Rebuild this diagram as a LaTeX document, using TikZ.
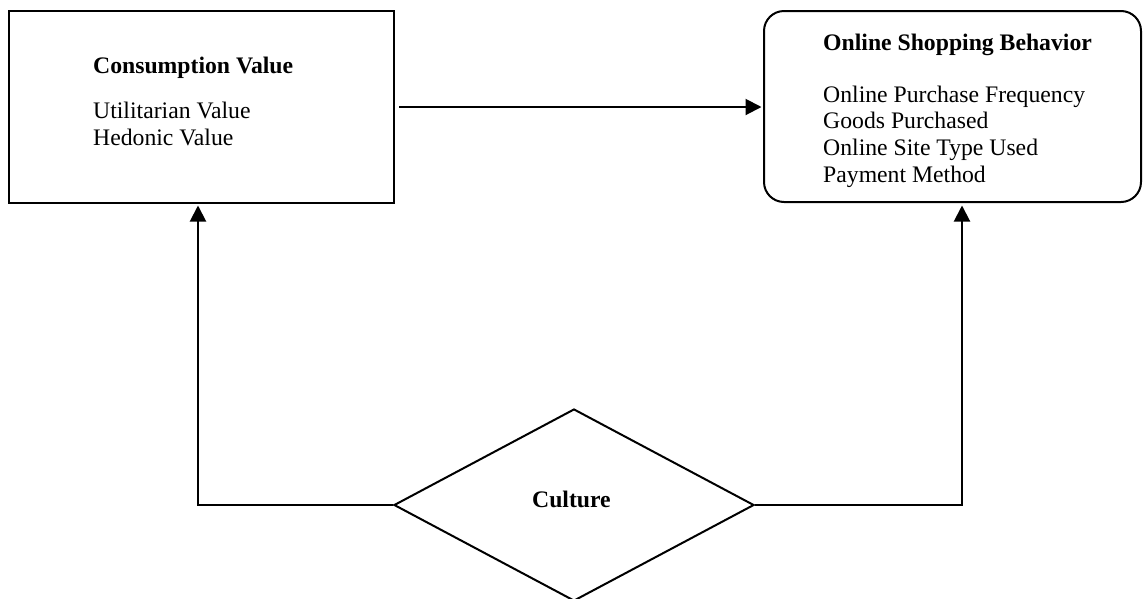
\documentclass[tikz,border=0pt]{standalone}
\usepackage{fontspec}
\setmainfont{Liberation Serif}
\usetikzlibrary{shapes.geometric,arrows.meta}
\tikzset{
  box/.style={draw, line width=2pt, inner sep=0pt},
  txt/.style={anchor=base west, inner sep=0pt, font=\fontsize{23.7}{26.7}\selectfont},
  btxt/.style={txt, font=\fontsize{23.7}{26.7}\selectfont\bfseries},
  conn/.style={line width=2pt, -{Triangle[length=16pt,width=16pt]}}
}
\begin{document}
\begin{tikzpicture}[x=1pt,y=-1pt]
\useasboundingbox (0,0) rectangle (1146,598);
% boxes
\node[box, minimum width=385pt, minimum height=192pt] (cv) at (201.5,107) {};
\node[box, rounded corners=20pt, minimum width=377pt, minimum height=191pt] (osb) at (952.5,106.5) {};
\node[draw, line width=2pt, shape=diamond, inner sep=0pt, minimum width=360pt, minimum height=192pt] (cult) at (574,505) {};
% texts
\node[btxt] (t1) at (93,73) {Consumption Value};
\node[txt] (t2) at (93,118) {Utilitarian Value};
\node[txt] (t3) at (93,145) {Hedonic Value};
\node[btxt] (t4) at (823,50) {Online Shopping Behavior};
\node[txt] (t5) at (823,102) {Online Purchase Frequency};
\node[txt] (t6) at (823,128) {Goods Purchased};
\node[txt] (t7) at (823,155) {Online Site Type Used};
\node[txt] (t8) at (823,182) {Payment Method};
\node[btxt] (t9) at (532,507) {Culture};
% connectors
\draw[conn, shorten <=4pt, shorten >=1.5pt] (cv.east) -- (osb.west |- cv.east);
\draw[conn, shorten >=1.5pt] (cult.west) -| ([xshift=-3.5pt]cv.south);
\draw[conn, shorten >=2.5pt] (cult.east) -| ([xshift=9.5pt]osb.south);
\end{tikzpicture}
\end{document}
